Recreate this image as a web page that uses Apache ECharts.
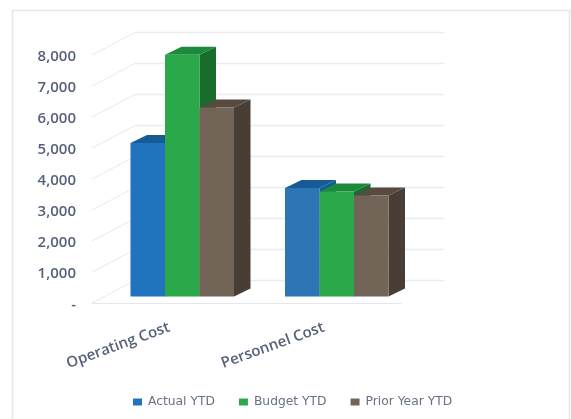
<!DOCTYPE html>
<html><head><meta charset="utf-8">
<style>html,body{margin:0;padding:0;background:#fff}#c{width:571px;height:419px}</style>
<script src="https://cdn.jsdelivr.net/npm/echarts@6/dist/echarts.min.js"></script>
</head><body><div id="c"></div>
<script>
const categories = ['Operating Cost', 'Personnel Cost'];
const actualYTD = [4950, 3500];
const budgetYTD = [7800, 3390];
const priorYearYTD = [6100, 3260];
const yTicks = [0,1000,2000,3000,4000,5000,6000,7000,8000];
const seriesNames = ['Actual YTD','Budget YTD','Prior Year YTD'];
const FRONT = [['#1f74bd','#165a97','#165a97'],['#2aa84a','#1c8a3c','#186d2d'],['#726457','#574a3f','#483e36']];
const FRONT2 = ['#2e75b6','#2aa84a','#726457'];
const chart = echarts.init(document.getElementById('c'), null, {renderer:'canvas'});
const WALL = {dx:43, dy:-22.5};
const BARPOS = {dx:13, dy:-6.5};
const DEPTH = {dx:16.5, dy:-8};
function wallItem(params, api){
  const v = api.value(0);
  const p = api.coord([0, v]);
  const x0 = params.coordSys.x, w = params.coordSys.width;
  return {type:'group', children:[
    {type:'line', shape:{x1:x0,y1:p[1],x2:x0+WALL.dx,y2:p[1]+WALL.dy}, style:{stroke:'#e6e9f0',lineWidth:1}},
    {type:'line', shape:{x1:x0+WALL.dx,y1:p[1]+WALL.dy,x2:x0+w+WALL.dx,y2:p[1]+WALL.dy}, style:{stroke:'#e9ecf2',lineWidth:1.5}}
  ]};
}
function barItem(si){
  return function(params, api){
    const cat = api.value(0), val = api.value(1);
    const base = api.coord([cat, 0]), top = api.coord([cat, val]);
    const bw = 34.5;
    const x = base[0] + BARPOS.dx + (si-1.5)*bw;
    const yb = base[1] + BARPOS.dy, yt = top[1] + BARPOS.dy;
    const d = DEPTH;
    const frontColor = (si===0 && cat===1) ? FRONT2[0] : FRONT[si][0];
    return {type:'group', children:[
      {type:'polygon', shape:{points:[[x+bw,yt],[x+bw+d.dx,yt+d.dy],[x+bw+d.dx,yb+d.dy],[x+bw,yb]]}, style:{fill:FRONT[si][2]}},
      {type:'polygon', shape:{points:[[x,yt],[x+d.dx,yt+d.dy],[x+bw+d.dx,yt+d.dy],[x+bw,yt]]}, style:{fill:FRONT[si][1]}},
      {type:'rect', shape:{x:x,y:yt,width:bw,height:yb-yt}, style:{fill:frontColor}}
    ]};
  };
}
const dataOf = [actualYTD, budgetYTD, priorYearYTD];
chart.setOption({
  animation:false,
  backgroundColor:'#fff',
  graphic:[{type:'rect', shape:{x:12.5,y:10.5,width:557,height:420}, style:{fill:'none',stroke:'#e4e7ee',lineWidth:1.5}, silent:true}],
  grid:{left:92, right:170, top:55, bottom:116},
  legend:{left:128, bottom:6, itemWidth:9, itemHeight:7, itemGap:24, icon:'rect',
    textStyle:{fontFamily:'DejaVu Sans', fontSize:12.3, color:'#687284', padding:[0,0,0,1]},
    data:seriesNames},
  xAxis:{type:'category', data:categories,
    axisLine:{show:true, lineStyle:{color:'#e4e7ee',width:1.2}}, axisTick:{show:false},
    axisLabel:{rotate:20, margin:24, fontFamily:'Open Sans', fontSize:15, fontWeight:600, color:'#56617a', interval:0}},
  yAxis:{type:'value', min:0, max:8000, interval:1000,
    axisLine:{show:false}, axisTick:{show:false}, splitLine:{show:false},
    axisLabel:{margin:16, 
      rich:{a:{fontFamily:'Open Sans', fontSize:15, fontWeight:600, color:'#56617a', padding:[4,0,0,0]}},
      formatter:v=> '{a|' + (v===0 ? '-' : v.toLocaleString('en-US')) + '}'}},
  series:[
    {type:'custom', name:'walls', data:yTicks.map(v=>[v]), encode:{y:0}, renderItem:wallItem, silent:true, z:1, clip:false},
    ...seriesNames.map((n,si)=>({type:'custom', name:n, clip:false, z:2,
      itemStyle:{color:FRONT[si][0]},
      data:categories.map((c,i)=>[i,dataOf[si][i]]), encode:{x:0,y:1}, renderItem:barItem(si)}))
  ]
});
</script></body></html>
